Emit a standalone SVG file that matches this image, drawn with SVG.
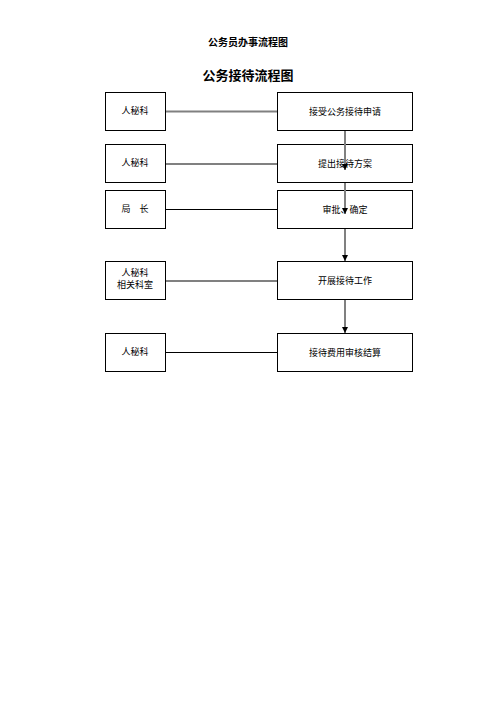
<svg xmlns="http://www.w3.org/2000/svg" width="496" height="702" viewBox="0 0 496 702">
<defs>
<style>
.box{fill:#fff;stroke:#000;stroke-width:1}
.t{font-family:"Noto Sans CJK SC","Liberation Sans",sans-serif;font-size:9px;fill:#000;text-anchor:middle}
.title{font-family:"Noto Sans CJK SC","Liberation Sans",sans-serif;font-weight:bold;fill:#000;text-anchor:middle}
.g{stroke:#808080;stroke-width:2;fill:none}
.k{stroke:#000;stroke-width:1;fill:none}
</style>
<marker id="ah" viewBox="0 0 10 10" refX="10" refY="5" markerWidth="3" markerHeight="3" orient="auto" markerUnits="strokeWidth">
<path d="M0,0 L10,5 L0,10 z" fill="#000"/>
</marker>
</defs>
<rect width="496" height="702" fill="#fff"/>
<text class="title" x="248" y="45.5" font-size="10">公务员办事流程图</text>
<text class="title" x="248" y="80" font-size="13">公务接待流程图</text>

<g id="l1"><rect class="box" x="105.5" y="92.5" width="60" height="38"/><text class="t" x="135" y="114">人秘科</text></g>
<g id="l2"><rect class="box" x="105.5" y="144.5" width="60" height="38"/><text class="t" x="135" y="166">人秘科</text></g>
<g id="l3"><rect class="box" x="105.5" y="190.5" width="60" height="38"/><text class="t" x="135" y="212">局　长</text></g>
<g id="l4"><rect class="box" x="105.5" y="261.5" width="60" height="38"/><text class="t" x="135" y="276">人秘科</text><text class="t" x="135" y="288">相关科室</text></g>
<g id="l5"><rect class="box" x="105.5" y="333.5" width="60" height="38"/><text class="t" x="135" y="355">人秘科</text></g>

<g id="r1"><rect class="box" x="277.5" y="92.5" width="135" height="38"/><text class="t" x="345" y="114.5">接受公务接待申请</text></g>
<g id="r2"><rect class="box" x="277.5" y="144.5" width="135" height="38"/><text class="t" x="345" y="167">提出接待方案</text></g>
<g id="r3"><rect class="box" x="277.5" y="190.5" width="135" height="38"/><text class="t" x="345" y="213">审批、确定</text></g>
<g id="r4"><rect class="box" x="277.5" y="261.5" width="135" height="38"/><text class="t" x="345" y="284">开展接待工作</text></g>
<g id="r5"><rect class="box" x="277.5" y="333.5" width="135" height="38"/><text class="t" x="345" y="356">接待费用审核结算</text></g>

<g id="connectors">
<line class="g" x1="166" y1="111.5" x2="277" y2="111.5"/>
<line class="g" x1="166" y1="164" x2="277" y2="164"/>
<line class="k" x1="166" y1="209.5" x2="277" y2="209.5"/>
<line class="g" x1="166" y1="281" x2="277" y2="281"/>
<line class="k" x1="166" y1="352.5" x2="277" y2="352.5"/>
<line class="g" x1="345" y1="131" x2="345" y2="170" marker-end="url(#ah)"/>
<line class="g" x1="345" y1="183" x2="345" y2="214" marker-end="url(#ah)"/>
<line class="g" x1="345" y1="229" x2="345" y2="261" marker-end="url(#ah)"/>
<line class="g" x1="345" y1="300" x2="345" y2="333" marker-end="url(#ah)"/>
</g>
</svg>
